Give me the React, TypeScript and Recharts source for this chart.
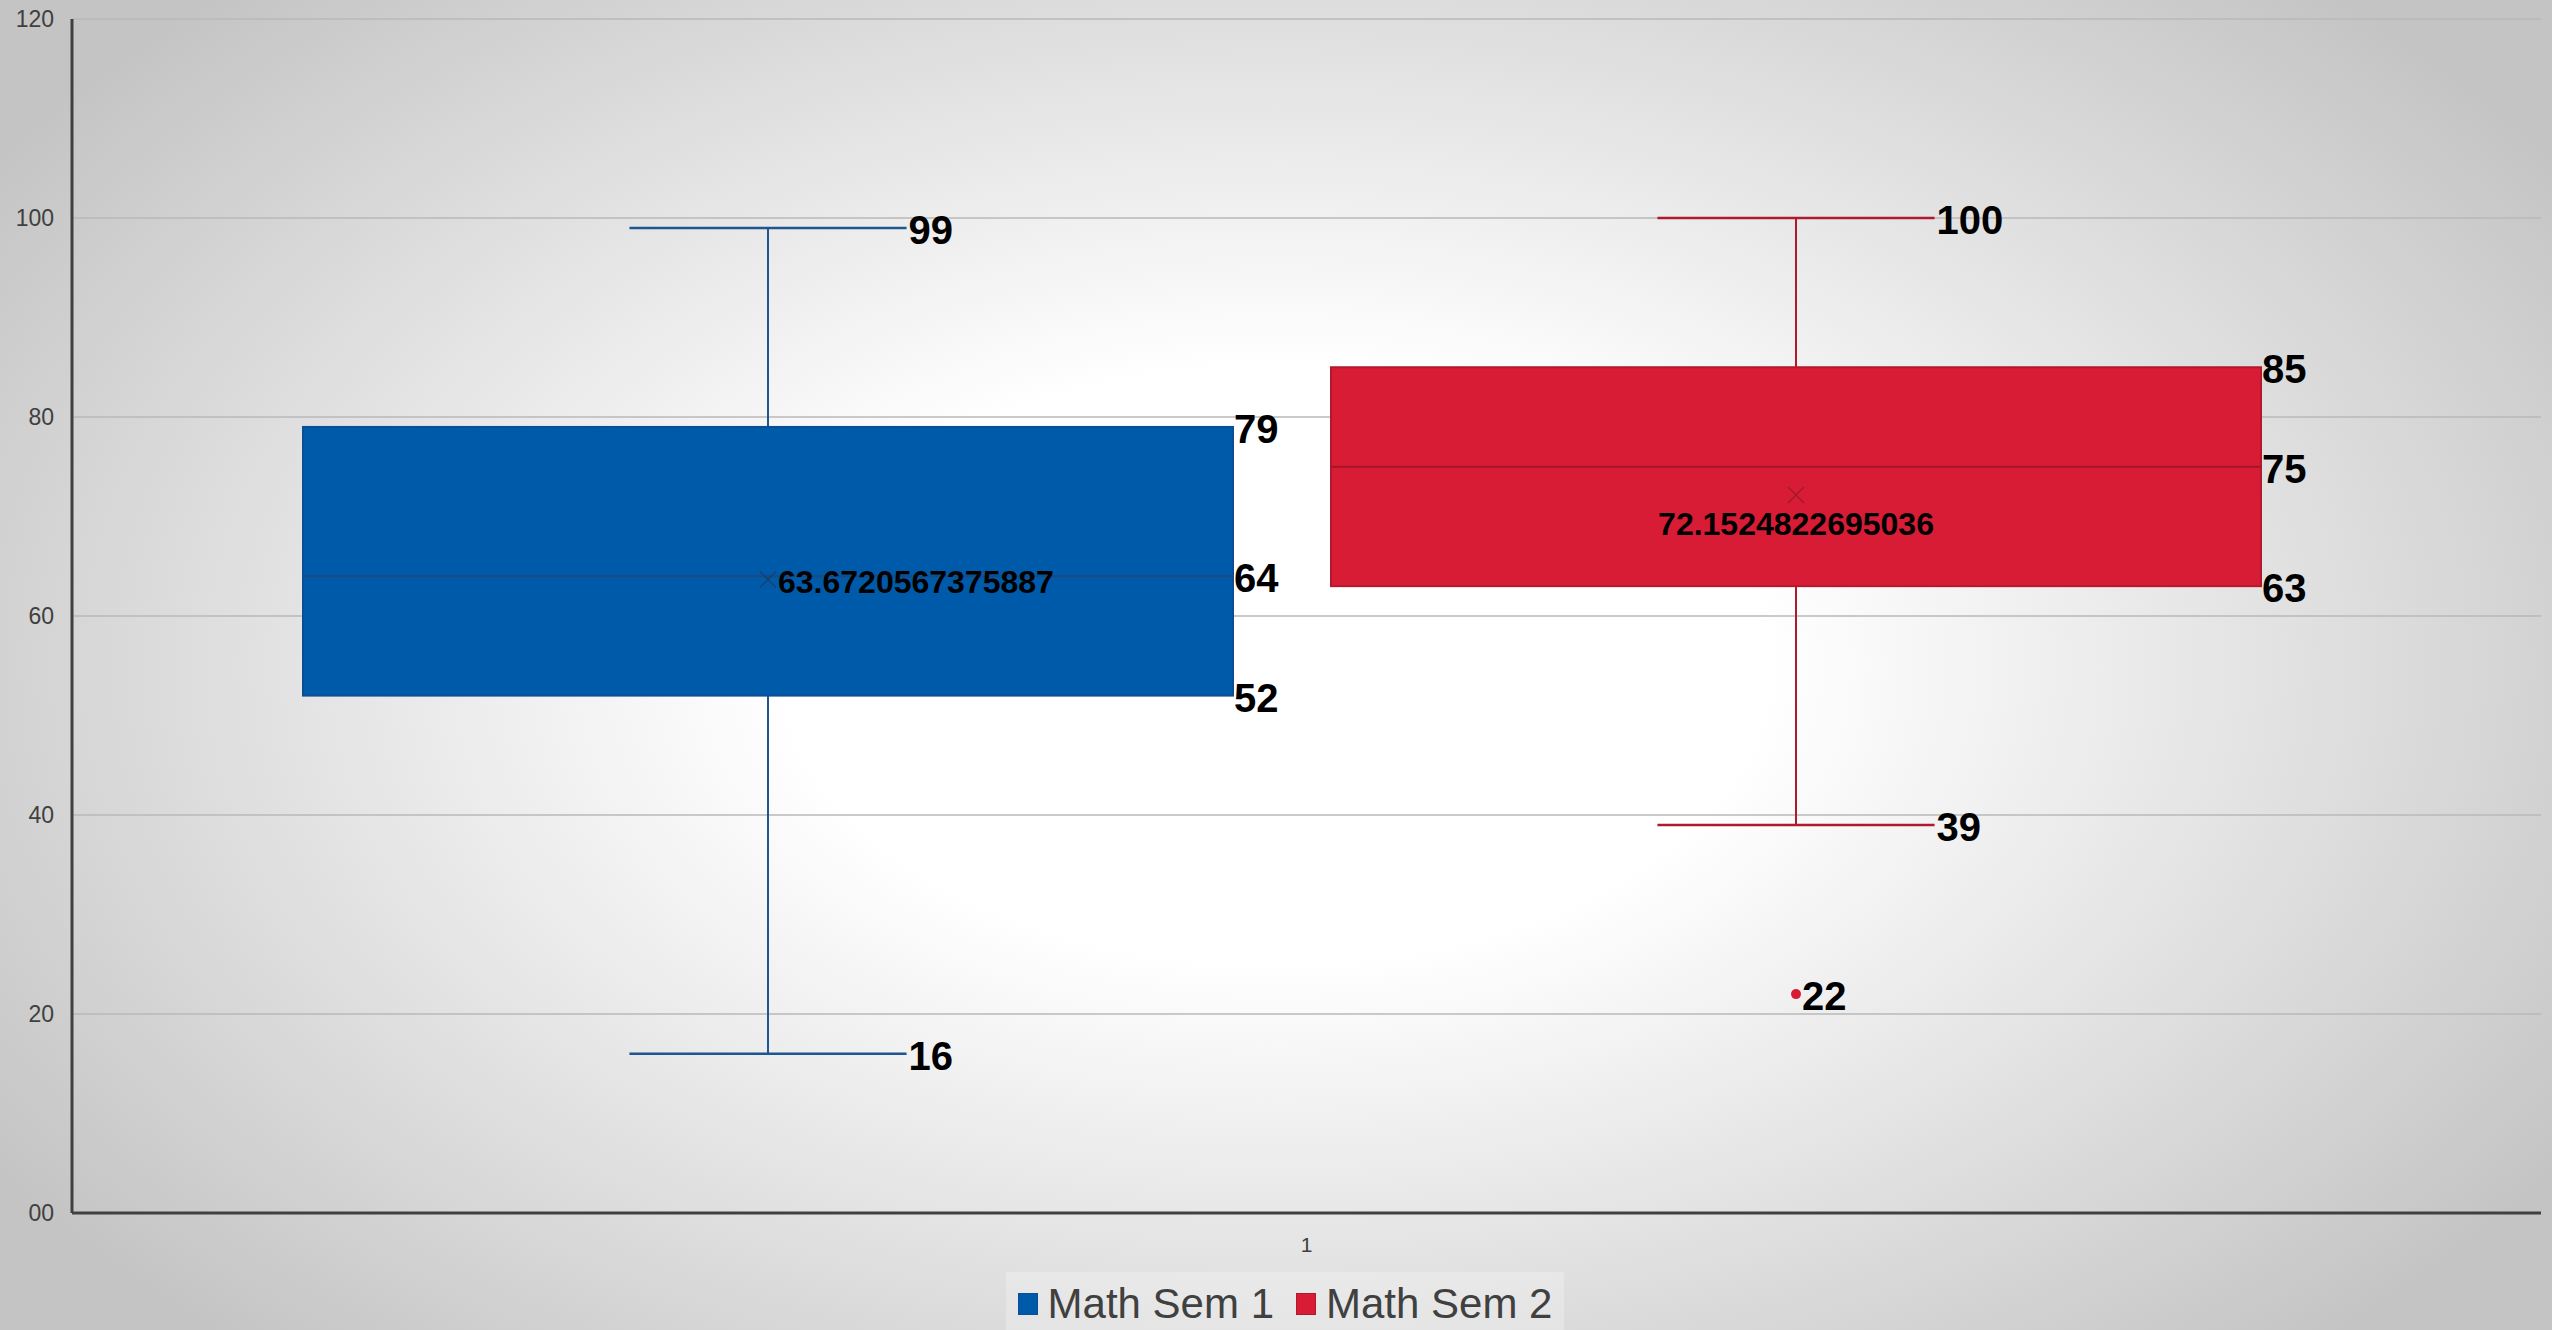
import { ComposedChart, Bar, XAxis, YAxis, CartesianGrid, Legend } from "recharts"

const categories = ["1"]
const seriesNames = ["Math Sem 1", "Math Sem 2"]
const seriesKeys = ["sem1", "sem2"]
const minValues = [16, 39]
const q1Values = [52, 63]
const medianValues = [64, 75]
const q3Values = [79, 85]
const maxValues = [99, 100]
const meanValues = [63.6720567375887, 72.1524822695036]
const outlierValues = [[], [22]]
const meanLabelPlacement = ["right", "below"]
const yTicks = [0, 20, 40, 60, 80, 100, 120]

const colors = [
  { fill: "#005aaa", stroke: "#0a4f95", whisker: "#1f5592", median: "#1b4a7f", mark: "#1a3f6e" },
  { fill: "#d81c35", stroke: "#b3192c", whisker: "#b01a2e", median: "#a41528", mark: "#a0182a" },
]

const data = categories.map((cat) => {
  const row: any = { cat }
  seriesKeys.forEach((k, i) => {
    row[k] = [q1Values[i], q3Values[i]]
  })
  return row
})

function makeBoxShape(i: number) {
  return (props: any) => {
    const { x, y, width, height } = props
    const c = colors[i]
    const top = q3Values[i]
    const bottom = q1Values[i]
    const unit = height / (top - bottom)
    const yOf = (v: number) => y + (top - v) * unit
    const cx = x + width / 2
    const capHalf = width * 0.149
    const right = x + width
    const label = { fontSize: 40, fontWeight: 700, fill: "#000", dominantBaseline: "central" as const }
    const my = yOf(meanValues[i])
    const meanText = String(meanValues[i])
    return (
      <g>
        <line x1={cx} x2={cx} y1={yOf(maxValues[i])} y2={yOf(q3Values[i])} stroke={c.whisker} strokeWidth={2} />
        <line x1={cx} x2={cx} y1={yOf(q1Values[i])} y2={yOf(minValues[i])} stroke={c.whisker} strokeWidth={2} />
        <line x1={cx - capHalf} x2={cx + capHalf} y1={yOf(maxValues[i])} y2={yOf(maxValues[i])} stroke={c.whisker} strokeWidth={2.5} />
        <line x1={cx - capHalf} x2={cx + capHalf} y1={yOf(minValues[i])} y2={yOf(minValues[i])} stroke={c.whisker} strokeWidth={2.5} />
        <rect x={x} y={y} width={width} height={height} fill={c.fill} stroke={c.stroke} strokeWidth={2} />
        <line x1={x} x2={right} y1={yOf(medianValues[i])} y2={yOf(medianValues[i])} stroke={c.median} strokeWidth={2} />
        <line x1={cx - 8} x2={cx + 8} y1={my - 8} y2={my + 8} stroke={c.mark} strokeWidth={1.5} />
        <line x1={cx - 8} x2={cx + 8} y1={my + 8} y2={my - 8} stroke={c.mark} strokeWidth={1.5} />
        {outlierValues[i].map((v) => (
          <g key={v}>
            <circle cx={cx} cy={yOf(v)} r={5} fill={c.fill} />
            <text x={cx + 6} y={yOf(v) + 2} {...label}>{v}</text>
          </g>
        ))}
        <text x={cx + capHalf + 2} y={yOf(maxValues[i]) + 2} {...label}>{maxValues[i]}</text>
        <text x={cx + capHalf + 2} y={yOf(minValues[i]) + 2} {...label}>{minValues[i]}</text>
        <text x={right + 1} y={yOf(q3Values[i]) + 2} {...label}>{q3Values[i]}</text>
        <text x={right + 1} y={yOf(medianValues[i]) + 2} {...label}>{medianValues[i]}</text>
        <text x={right + 1} y={yOf(q1Values[i]) + 2} {...label}>{q1Values[i]}</text>
        {meanLabelPlacement[i] === "right" ? (
          <text x={cx + 10} y={my + 3} fontSize={32} fontWeight={700} fill="#000" dominantBaseline="central">{meanText}</text>
        ) : (
          <text x={cx} y={my + 29} fontSize={32} fontWeight={700} fill="#000" textAnchor="middle" dominantBaseline="central">{meanText}</text>
        )}
      </g>
    )
  }
}

function LegendContent() {
  return (
    <div style={{ display: "flex", justifyContent: "center", paddingLeft: 18 }}>
      <div style={{ display: "flex", alignItems: "center", gap: 22, background: "rgba(255,255,255,0.25)", padding: "8px 12px 4px" }}>
        {seriesNames.map((name, i) => (
          <div key={name} style={{ display: "flex", alignItems: "center", gap: 10 }}>
            <span style={{ width: 18, height: 20, background: colors[i].fill, border: `1px solid ${colors[i].stroke}`, display: "inline-block" }} />
            <span style={{ fontSize: 42, color: "#404040", lineHeight: "48px" }}>{name}</span>
          </div>
        ))}
      </div>
    </div>
  )
}

export default function App() {
  return (
    <div
      style={{
        position: "absolute",
        left: 0,
        top: 0,
        width: 2552,
        height: 1330,
        overflow: "hidden",
        fontFamily: "'Liberation Sans', Arial, sans-serif",
        background: "radial-gradient(ellipse 60% 70% at 50% 50%, #ffffff 32%, #c4c4c4 100%)",
      }}
    >
      <ComposedChart
        width={2552}
        height={1330}
        data={data}
        margin={{ top: 19, right: 11, left: 0, bottom: 67 }}
        barCategoryGap={231}
        barGap={98}
      >
        <CartesianGrid vertical={false} stroke="#b8b8b8" strokeWidth={1.5} />
        <XAxis xAxisId="box" dataKey="cat" hide padding={{ left: 0, right: 49 }} height={0} />
        <XAxis
          xAxisId="main"
          dataKey="cat"
          height={50}
          axisLine={{ stroke: "#404040", strokeWidth: 3 }}
          tickLine={false}
          tickMargin={18}
          tick={{ fill: "#404040", fontSize: 21 }}
        />
        <YAxis
          domain={[0, 120]}
          ticks={yTicks}
          width={72}
          axisLine={{ stroke: "#404040", strokeWidth: 3 }}
          tickLine={false}
          tickSize={0}
          tickMargin={18}
          tick={{ fill: "#404040", fontSize: 23 }}
          tickFormatter={(v: number) => (v === 0 ? "00" : String(v))}
        />
        {seriesKeys.map((k, i) => (
          <Bar
            key={k}
            xAxisId="box"
            dataKey={k}
            name={seriesNames[i]}
            fill={colors[i].fill}
            shape={makeBoxShape(i)}
            activeBar={false}
            isAnimationActive={false}
          />
        ))}
        <Legend
          layout="horizontal"
          verticalAlign="middle"
          align="center"
          content={<LegendContent />}
          wrapperStyle={{ top: 1272, left: 0, width: 2552 }}
        />
      </ComposedChart>
    </div>
  )
}
